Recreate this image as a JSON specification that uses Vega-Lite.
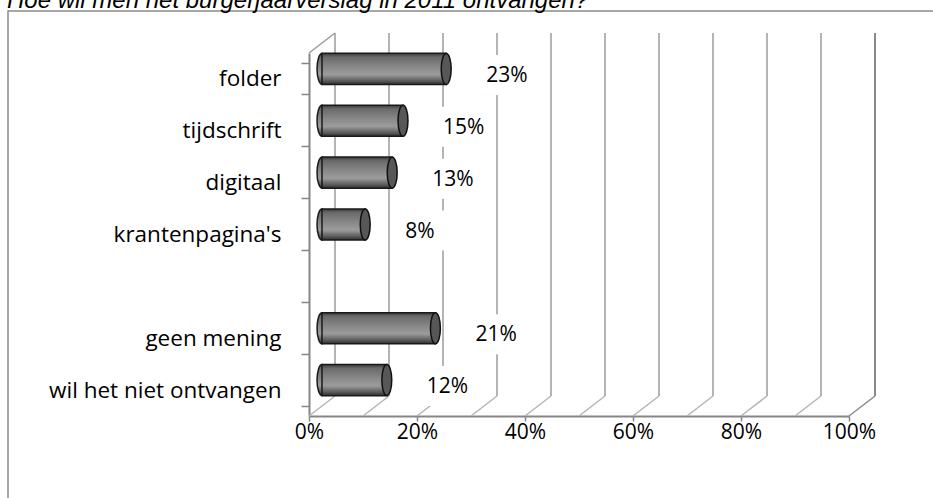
{
  "$schema": "https://vega.github.io/schema/vega-lite/v6.json",
  "width": 930,
  "height": 495,
  "autosize": {"type": "none"},
  "padding": {"left": 8, "top": 11, "right": 0, "bottom": 0},
  "background": "white",
  "config": {
    "view": {"stroke": "#8c8c8c", "strokeWidth": 1.5},
    "font": "Open Sans",
    "axis": {"labelFont": "Open Sans", "labelFontSize": 21, "labelColor": "#000000", "domainColor": "#868686", "domainWidth": 2, "tickColor": "#868686", "tickWidth": 1.5}
  },
  "title": {
    "text": "Hoe wil men het burgerjaarverslag in 2011 ontvangen?",
    "anchor": "start",
    "frame": "group",
    "font": "Liberation Sans",
    "fontStyle": "italic",
    "fontWeight": "normal",
    "fontSize": 24,
    "color": "#000000",
    "baseline": "alphabetic",
    "offset": 0,
    "dx": -1,
    "dy": 32
  },
  "datasets": {
    "antwoorden": [
      {"antwoord": "folder", "aandeel": 0.23},
      {"antwoord": "tijdschrift", "aandeel": 0.15},
      {"antwoord": "digitaal", "aandeel": 0.13},
      {"antwoord": "krantenpagina's", "aandeel": 0.08},
      {"antwoord": "geen mening", "aandeel": 0.21},
      {"antwoord": "wil het niet ontvangen", "aandeel": 0.12}
    ],
    "raster": [
      {"p": 0}, {"p": 0.1}, {"p": 0.2}, {"p": 0.3}, {"p": 0.4}, {"p": 0.5},
      {"p": 0.6}, {"p": 0.7}, {"p": 0.8}, {"p": 0.9}, {"p": 1}
    ]
  },
  "layer": [
    {
      "data": {"name": "raster"},
      "mark": {"type": "rule", "xOffset": 26, "yOffset": -20, "y2Offset": -20, "strokeWidth": 2},
      "encoding": {
        "x": {
          "field": "p", "type": "quantitative",
          "scale": {"domain": [0, 1], "range": [301, 841], "nice": false, "zero": true},
          "axis": {"orient": "bottom", "offset": -90, "values": [0, 0.2, 0.4, 0.6, 0.8, 1], "format": ".0%", "tickSize": 5, "labelPadding": 0, "labelFlush": false, "labelOverlap": false, "grid": false, "title": null}
        },
        "y": {
          "datum": "folder", "type": "nominal", "bandPosition": -0.3333,
          "scale": {"type": "band", "domain": ["folder", "tijdschrift", "digitaal", "krantenpagina's", " ", "geen mening", "wil het niet ontvangen"], "range": [42, 405], "paddingInner": 0.4, "paddingOuter": 0.2},
          "axis": {"orient": "left", "offset": -301, "tickSize": 8, "tickBand": "extent", "labelPadding": 20, "labelLimit": 400, "labelFontSize": 22.5, "grid": false, "title": null}
        },
        "y2": {"datum": "wil het niet ontvangen", "bandPosition": 1.3333},
        "color": {"condition": {"test": "datum.p >= 1", "value": "#8a8a8a"}, "value": "#b4b4b4"}
      }
    },
    {
      "data": {"name": "raster"},
      "mark": {"type": "point", "shape": "M0,0L1,-0.77", "size": 2704, "filled": false, "strokeWidth": 1.5, "opacity": 1},
      "encoding": {
        "x": {"field": "p", "type": "quantitative"},
        "y": {"datum": "wil het niet ontvangen", "type": "nominal", "bandPosition": 1.3333},
        "color": {"condition": {"test": "datum.p >= 1", "value": "#8a8a8a"}, "value": "#b4b4b4"}
      }
    },
    {
      "data": {"name": "raster"},
      "transform": [{"filter": "datum.p == 0"}],
      "mark": {"type": "point", "shape": "M0,0L1,-0.77", "size": 2704, "filled": false, "strokeWidth": 1.5, "opacity": 1, "color": "#9a9a9a"},
      "encoding": {
        "x": {"field": "p", "type": "quantitative"},
        "y": {"datum": "folder", "type": "nominal", "bandPosition": -0.3333}
      }
    },
    {
      "data": {"name": "antwoorden"},
      "mark": {"type": "point", "shape": "M-1,-0.69H1V0.69H-1Z", "size": 3364, "filled": true, "color": "#ffffff", "opacity": 1, "xOffset": 73, "yOffset": -4},
      "encoding": {
        "x": {"field": "aandeel", "type": "quantitative"},
        "y": {"field": "antwoord", "type": "nominal"}
      }
    },
    {
      "data": {"name": "antwoorden"},
      "mark": {
        "type": "point", "shape": "M0,-1A0.32,1 0 1,1 0,1A0.32,1 0 1,1 0,-1Z", "size": 961,
        "filled": true, "opacity": 1, "stroke": "#1a1a1a", "strokeWidth": 1.5,
        "xOffset": 13, "yOffset": -10,
        "fill": {
          "gradient": "linear", "x1": 0, "y1": 0, "x2": 0, "y2": 1,
          "stops": [
            {"offset": 0, "color": "#3a3a3a"},
            {"offset": 0.12, "color": "#6a6a6a"},
            {"offset": 0.4, "color": "#858585"},
            {"offset": 0.68, "color": "#9c9c9c"},
            {"offset": 0.88, "color": "#5c5c5c"},
            {"offset": 1, "color": "#2e2e2e"}
          ]
        }
      },
      "encoding": {
        "x": {"datum": 0, "type": "quantitative"},
        "y": {"field": "antwoord", "type": "nominal"}
      }
    },
    {
      "data": {"name": "antwoorden"},
      "mark": {
        "type": "bar",
        "xOffset": 13, "x2Offset": 13, "yOffset": -10,
        "stroke": "#1a1a1a", "strokeWidth": 1.5,
        "fill": {
          "gradient": "linear", "x1": 0, "y1": 0, "x2": 0, "y2": 1,
          "stops": [
            {"offset": 0, "color": "#3a3a3a"},
            {"offset": 0.12, "color": "#6a6a6a"},
            {"offset": 0.4, "color": "#858585"},
            {"offset": 0.68, "color": "#9c9c9c"},
            {"offset": 0.88, "color": "#5c5c5c"},
            {"offset": 1, "color": "#2e2e2e"}
          ]
        }
      },
      "encoding": {
        "x": {"field": "aandeel", "type": "quantitative"},
        "y": {"field": "antwoord", "type": "nominal"}
      }
    },
    {
      "data": {"name": "antwoorden"},
      "mark": {"type": "point", "shape": "M0,-1A0.32,1 0 1,1 0,1A0.32,1 0 1,1 0,-1Z", "size": 961, "filled": true, "fill": "#575757", "stroke": "#111111", "strokeWidth": 1.5, "opacity": 1, "xOffset": 13, "yOffset": -10},
      "encoding": {
        "x": {"field": "aandeel", "type": "quantitative"},
        "y": {"field": "antwoord", "type": "nominal"}
      }
    },
    {
      "data": {"name": "antwoorden"},
      "mark": {"type": "text", "align": "left", "baseline": "middle", "dx": 53, "dy": -3, "font": "Open Sans", "fontSize": 21, "color": "#000000"},
      "encoding": {
        "x": {"field": "aandeel", "type": "quantitative"},
        "y": {"field": "antwoord", "type": "nominal"},
        "text": {"field": "aandeel", "type": "quantitative", "format": ".0%"}
      }
    }
  ]
}
